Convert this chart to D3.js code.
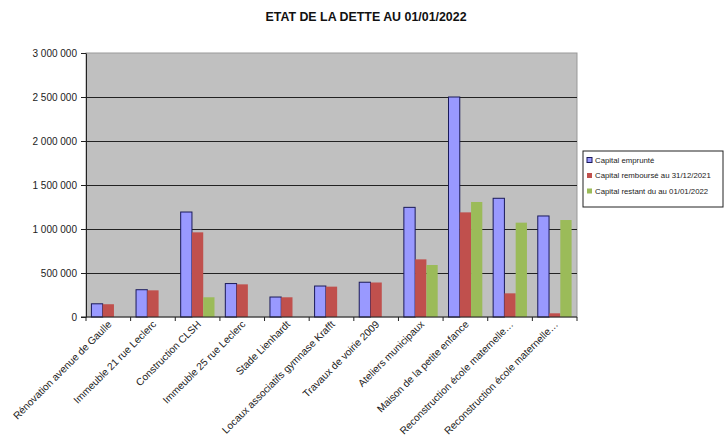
<!DOCTYPE html>
<html lang="fr">
<head>
  <meta charset="UTF-8" />
  <title>Etat de la dette au 01/01/2022</title>
  <style>
    body { margin: 0; background: #fff; font-family: 'Liberation Sans', Arial, sans-serif; }
    svg { display: block; }
    .axis text { fill: #222; }
    .axis path, .axis line { stroke: #222; }
  </style>
</head>
<body>
  <svg id="chart" width="724" height="440"></svg>
  <script src="https://d3js.org/d3.v7.min.js"></script>
  <script>
    // Data
    const categories = [
      "Rénovation avenue de Gaulle",
      "Immeuble 21 rue Leclerc",
      "Construction CLSH",
      "Immeuble 25 rue Leclerc",
      "Stade Lienhardt",
      "Locaux associatifs gymnase Krafft",
      "Travaux de voirie 2009",
      "Ateliers municipaux",
      "Maison de la petite enfance",
      "Reconstruction école maternelle…",
      "Reconstruction école maternelle…"
    ];
    const seriesNames = [
      "Capital emprunté",
      "Capital remboursé au 31/12/2021",
      "Capital restant du au 01/01/2022"
    ];
    const emprunte  = [150000, 310000, 1193000, 380000, 227000, 352000, 395000, 1246000, 2500000, 1349000, 1148000];
    const rembourse = [145000, 303000, 962000, 371000, 224000, 345000, 392000, 655000, 1189000, 269000, 42000];
    const restant   = [0, 0, 224000, 0, 0, 0, 0, 591000, 1307000, 1072000, 1102000];
    const yTicks = [0, 500000, 1000000, 1500000, 2000000, 2500000, 3000000];
    const colors = ["#9999ff", "#c0504d", "#9bbb59"];

    const svg = d3.select("#chart");
    const margin = { left: 86, top: 53, right: 147, bottom: 123 };
    const width = 724 - margin.left - margin.right;
    const height = 440 - margin.top - margin.bottom;

    const g = svg.append("g").attr("transform", `translate(${margin.left},${margin.top})`);

    // keys by index because two categories share the same label
    const x = d3.scaleBand().domain(d3.range(categories.length)).range([0, width]).paddingInner(0).paddingOuter(0);
    const inner = d3.scaleBand().domain([0, 1, 2]).range([0, x.bandwidth()]).paddingOuter(0.48).paddingInner(0);
    const y = d3.scaleLinear().domain([0, 3000000]).range([height, 0]);

    // plot background
    g.append("rect")
      .attr("width", width).attr("height", height)
      .attr("fill", "#c0c0c0").attr("stroke", "#999").attr("stroke-width", 1);

    // gridlines
    g.append("g").selectAll("line")
      .data(yTicks.slice(1, -1))
      .join("line")
      .attr("x1", 0).attr("x2", width)
      .attr("y1", d => y(d) + 0.5).attr("y2", d => y(d) + 0.5)
      .attr("stroke", "#222").attr("stroke-width", 1);

    // bars
    const series = [emprunte, rembourse, restant];
    series.forEach((vals, si) => {
      g.append("g").selectAll("rect")
        .data(vals)
        .join("rect")
        .attr("x", (d, i) => x(i) + inner(si))
        .attr("y", d => y(d))
        .attr("width", inner.bandwidth())
        .attr("height", d => y(0) - y(d))
        .attr("fill", colors[si])
        .attr("stroke", si === 0 ? "#1a1a5a" : "none")
        .attr("stroke-width", si === 0 ? 1 : 0)
        .style("display", d => d > 0 ? null : "none");
    });

    // y axis
    const fmt = d => d3.format(",")(d).replace(/,/g, " ");
    const yAxis = g.append("g").attr("class", "axis")
      .call(d3.axisLeft(y).tickValues(yTicks).tickFormat(fmt).tickSize(5).tickSizeOuter(0));
    yAxis.selectAll("text").attr("font-size", 10).attr("font-family", null).attr("dx", "-1");

    // x axis: ticks at category boundaries
    const xAxisG = g.append("g").attr("class", "axis").attr("transform", `translate(0,${height})`);
    xAxisG.append("line").attr("x1", -5).attr("x2", width).attr("stroke", "#222");
    xAxisG.selectAll(".tk")
      .data(d3.range(categories.length + 1))
      .join("line")
      .attr("class", "tk")
      .attr("x1", i => i * x.step()).attr("x2", i => i * x.step())
      .attr("y1", 0).attr("y2", 4)
      .attr("stroke", "#222");
    xAxisG.selectAll("text")
      .data(categories)
      .join("text")
      .attr("transform", (d, i) => `translate(${x(i) + x.bandwidth() / 2 + 4},${8}) rotate(-45)`)
      .attr("text-anchor", "end")
      .attr("font-size", 10.2)
      .attr("fill", "#222")
      .text(d => d);

    // title
    svg.append("text")
      .attr("x", 366).attr("y", 21)
      .attr("text-anchor", "middle")
      .attr("font-size", 12.4).attr("font-weight", "bold")
      .attr("fill", "#111")
      .text("ETAT DE LA DETTE AU 01/01/2022");

    // legend
    const leg = svg.append("g").attr("transform", "translate(583,151)");
    leg.append("rect").attr("width", 140).attr("height", 56)
      .attr("fill", "#fff").attr("stroke", "#222");
    seriesNames.forEach((name, i) => {
      const row = leg.append("g").attr("transform", `translate(4,${11 + i * 15.5})`);
      row.append("rect").attr("x", 0).attr("y", -4.5).attr("width", 5).attr("height", 5)
        .attr("fill", colors[i]).attr("stroke", i === 0 ? "#1a1a5a" : "none");
      row.append("text").attr("x", 8).attr("y", 0).attr("dy", "0.1em")
        .attr("font-size", 7.8).attr("fill", "#222").text(name);
    });
  </script>
</body>
</html>
